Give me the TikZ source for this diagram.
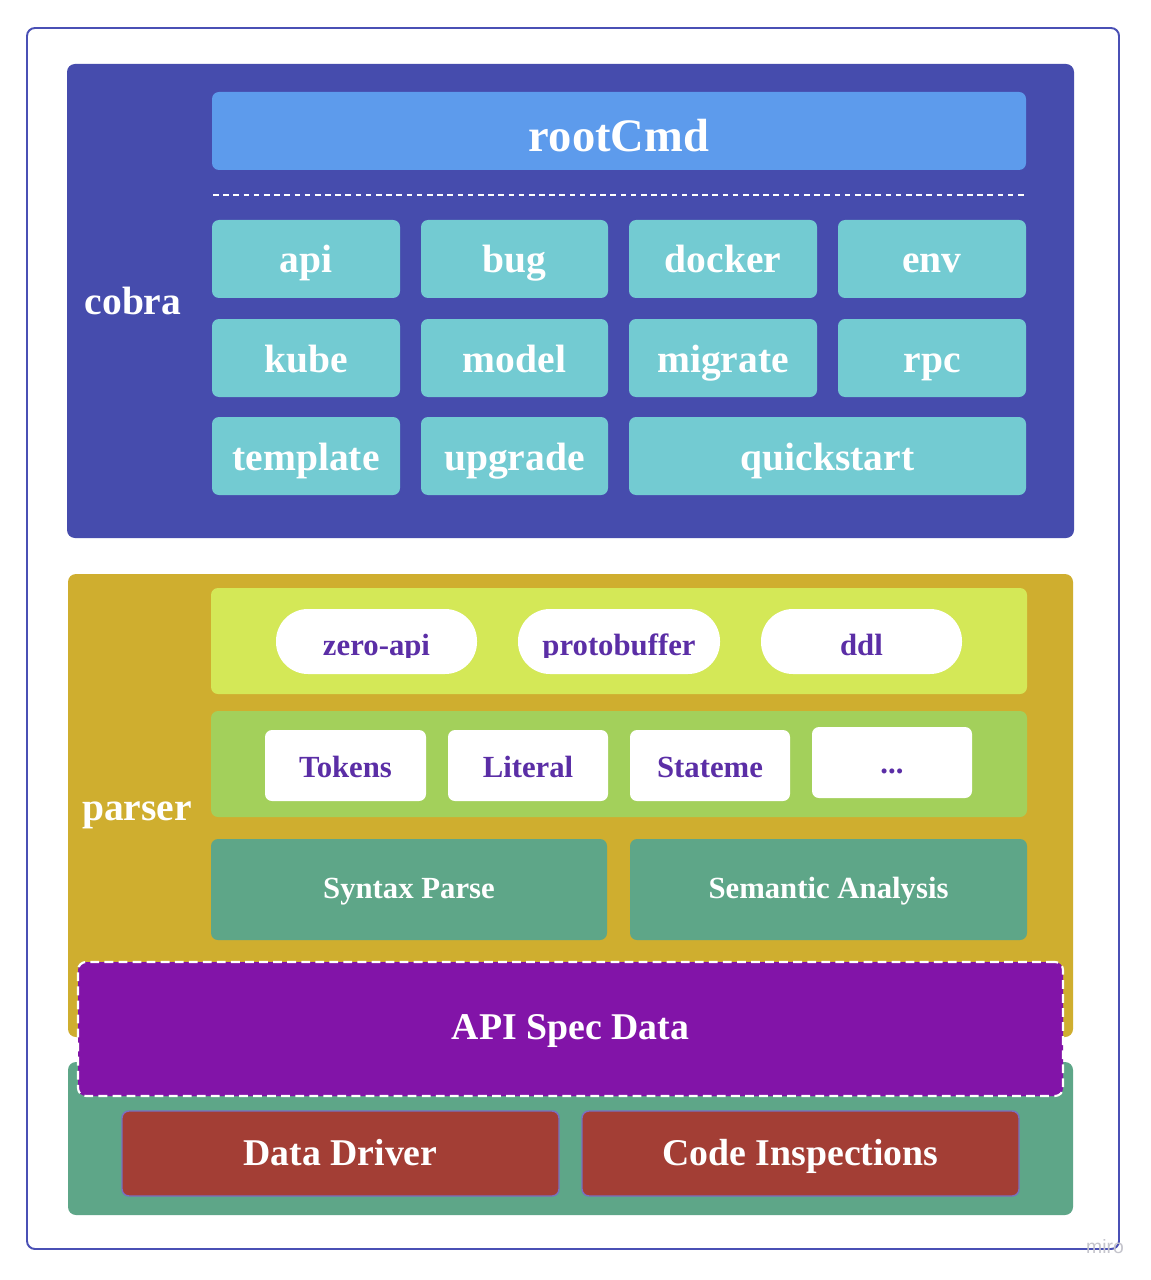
\documentclass[tikz,border=0pt]{standalone}
\usepackage{fontspec}
\setmainfont{Liberation Serif}
\setsansfont{Liberation Sans}
\usetikzlibrary{fit}
\definecolor{frameC}{HTML}{4A50B5}
\definecolor{cobraC}{HTML}{464CAD}
\definecolor{rootC}{HTML}{5D9BEC}
\definecolor{cmdC}{HTML}{73CBD2}
\definecolor{goldC}{HTML}{CFAE2F}
\definecolor{limeC}{HTML}{D4E857}
\definecolor{leafC}{HTML}{A3D05B}
\definecolor{tealC}{HTML}{5EA688}
\definecolor{purpC}{HTML}{8214A8}
\definecolor{redC}{HTML}{A33E35}
\definecolor{inkC}{HTML}{5B2EA6}
\definecolor{redEdge}{HTML}{7A6FC0}
\definecolor{miroC}{HTML}{C4C4CC}
\begin{document}
\begin{tikzpicture}[x=0.02cm,y=-0.02cm,
  area/.style={inner sep=0pt, rounded corners=0.16cm},
  cmdbox/.style={area, fill=cmdC, rounded corners=0.14cm},
  whitebox/.style={area, fill=white, rounded corners=0.14cm},
  pill/.style={inner sep=0pt, fill=white, rounded corners=0.64cm},
  redbox/.style={area, fill=redC, draw=redEdge, line width=0.8pt, rounded corners=0.14cm},
  tw/.style={text=white, inner sep=0pt, anchor=base},
  tp/.style={text=inkC, inner sep=0pt, anchor=base},
  fXL/.style={font=\bfseries\fontsize{26.5pt}{30pt}\selectfont},
  fL/.style={font=\bfseries\fontsize{22.5pt}{26pt}\selectfont},
  fM/.style={font=\bfseries\fontsize{21.5pt}{25pt}\selectfont},
  fS/.style={font=\bfseries\fontsize{17.5pt}{21pt}\selectfont},
]
\useasboundingbox (0,0) rectangle (1150,1280);
\fill[white] (0,0) rectangle (1150,1280);

% outer frame
\node[draw=frameC, line width=1.1pt, rounded corners=0.16cm, inner sep=0pt, fit={(27,28)(1119,1249)}] (frame) {};

% ---------- cobra ----------
\node[area, fill=cobraC, fit={(67,64)(1074,538)}] (cobra) {};
\node[tw, fL] (cobraT) at (133,315) {cobra};
\node[area, fill=rootC, rounded corners=0.14cm, fit={(212,92)(1026,170)}] (root) {};
\node[tw, fXL] (rootT) at (619,152) {rootCmd};
\coordinate (dashL) at (213,195);
\coordinate (dashR) at (1026,195);
\draw[white, line width=0.8pt, dash pattern=on 3.2pt off 2.6pt] (dashL) -- (dashR);

\node[cmdbox, fit={(212,220)(400,298)}] (api) {};
\node[cmdbox, fit={(421,220)(608,298)}] (bug) {};
\node[cmdbox, fit={(629,220)(817,298)}] (docker) {};
\node[cmdbox, fit={(838,220)(1026,298)}] (env) {};
\node[cmdbox, fit={(212,319)(400,397)}] (kube) {};
\node[cmdbox, fit={(421,319)(608,397)}] (model) {};
\node[cmdbox, fit={(629,319)(817,397)}] (migrate) {};
\node[cmdbox, fit={(838,319)(1026,397)}] (rpc) {};
\node[cmdbox, fit={(212,417)(400,495)}] (template) {};
\node[cmdbox, fit={(421,417)(608,495)}] (upgrade) {};
\node[cmdbox, fit={(629,417)(1026,495)}] (quick) {};
\node[tw, fL] (apiT) at (306,273) {api};
\node[tw, fL] (bugT) at (514.5,273) {bug};
\node[tw, fL] (dockerT) at (723,273) {docker};
\node[tw, fL] (envT) at (932,273) {env};
\node[tw, fL] (kubeT) at (306,372) {kube};
\node[tw, fL] (modelT) at (514.5,372) {model};
\node[tw, fL] (migrateT) at (723,372) {migrate};
\node[tw, fL] (rpcT) at (932,372) {rpc};
\node[tw, fL] (templateT) at (306,470) {template};
\node[tw, fL] (upgradeT) at (514.5,470) {upgrade};
\node[tw, fL] (quickT) at (827.5,470) {quickstart};

% ---------- parser ----------
\node[area, fill=goldC, fit={(68,574)(1073,1037)}] (parser) {};
\node[tw, fL] (parserT) at (137,820) {parser};
\node[area, fill=limeC, rounded corners=0.14cm, fit={(211,588)(1027,694)}] (langs) {};
\node[pill, fit={(276,609)(477,674)}] (zero) {};
\node[pill, fit={(518,609)(720,674)}] (proto) {};
\node[pill, fit={(761,609)(962,674)}] (ddl) {};
\begin{scope}
\clip (211,600) rectangle (1027,657.5);
\node[tp, fS] (zeroT) at (376.5,655) {zero-api};
\node[tp, fS] (protoT) at (619,655) {protobuffer};
\node[tp, fS] (ddlT) at (861.5,655) {ddl};
\end{scope}

\node[area, fill=leafC, rounded corners=0.14cm, fit={(211,711)(1027,817)}] (ast) {};
\node[whitebox, fit={(265,730)(426,801)}] (tok) {};
\node[whitebox, fit={(448,730)(608,801)}] (lit) {};
\node[whitebox, fit={(630,730)(790,801)}] (stm) {};
\node[whitebox, fit={(812,727)(972,798)}] (more) {};
\node[tp, fS] (tokT) at (345.5,777) {Tokens};
\node[tp, fS] (litT) at (528,777) {Literal};
\node[tp, fS] (stmT) at (710,777) {Stateme};
\node[tp, fS] (moreT) at (892,773) {...};

\node[area, fill=tealC, rounded corners=0.14cm, fit={(211,839)(607,940)}] (syn) {};
\node[area, fill=tealC, rounded corners=0.14cm, fit={(630,839)(1027,940)}] (sem) {};
\node[tw, fS] (synT) at (409,898) {Syntax Parse};
\node[tw, fS] (semT) at (828.5,898) {Semantic Analysis};

% ---------- bottom ----------
\node[area, fill=tealC, fit={(68,1062)(1073,1215)}] (base) {};
\node[area, fill=purpC, draw=white, line width=1.2pt, dash pattern=on 5pt off 3pt, fit={(78,962)(1063,1096)}] (spec) {};
\node[tw, fM] (specT) at (570.5,1039) {API Spec Data};
\node[redbox, fit={(122,1111)(559,1196)}] (drv) {};
\node[redbox, fit={(582,1111)(1019,1196)}] (insp) {};
\node[tw, fM] (drvT) at (340.5,1165) {Data Driver};
\node[tw, fM] (inspT) at (800.5,1165) {Code Inspections};

% watermark
\node[text=miroC, inner sep=0pt, anchor=base, font=\sffamily\fontsize{11pt}{12pt}\selectfont] (miro) at (1105,1253) {miro};
\end{tikzpicture}
\end{document}
